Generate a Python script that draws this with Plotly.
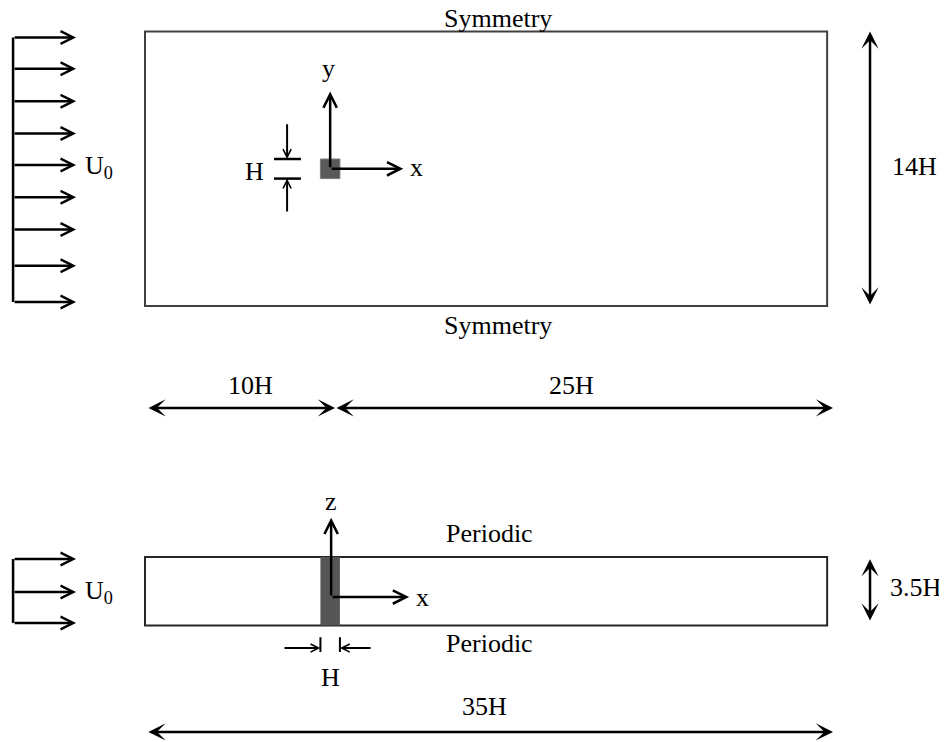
import plotly.graph_objects as go

# domain dimensions in units of H
H = 1.0
UPSTREAM = 10
DOWNSTREAM = 25
LENGTH = UPSTREAM + DOWNSTREAM
HEIGHT = 14
SPAN = 3.5

# inflow arrow heights (in H, from the lower wall)
INLET_XY = [13.7, 12.1, 10.45, 8.8, 7.2, 5.55, 3.9, 2.05, 0.2]
INLET_XZ = [3.39, 1.71, 0.13]

XY_BC = ["Symmetry", "Symmetry"]
XZ_BC = ["Periodic", "Periodic"]
DIM_LABELS = {"up": "10H", "down": "25H", "height": "14H", "span": "3.5H",
              "length": "35H", "h": "H"}

FONT = dict(family="Liberation Serif, Times New Roman, serif", size=26, color="black")
Z0 = -16.3                # bottom of the x-z view
XC = UPSTREAM - 0.5 * H   # cylinder centre
YC = HEIGHT / 2
RAKE_X, TIP_X = -6.77, -3.54

fig = go.Figure()
shapes = []
ann = []


def arrow(x0, y0, x1, y1, head=5, size=0.85, width=2.5, both=False):
    ann.append(dict(x=x1, y=y1, ax=x0, ay=y0, xref="x", yref="y", axref="x", ayref="y",
                    text="", showarrow=True, arrowhead=head, arrowsize=size,
                    arrowwidth=width, arrowcolor="black", standoff=0, startstandoff=0,
                    startarrowhead=head, startarrowsize=size,
                    arrowside="end+start" if both else "end"))


def label(x, y, txt, anchor="center"):
    ann.append(dict(x=x, y=y, xref="x", yref="y", text=txt, showarrow=False,
                    font=FONT, xanchor=anchor, yanchor="middle"))


def line(x0, y0, x1, y1, color="black", width=2.5):
    shapes.append(dict(type="line", x0=x0, y0=y0, x1=x1, y1=y1, xref="x", yref="y",
                       line=dict(color=color, width=width)))


# ---------- x-y view ----------
shapes.append(dict(type="rect", x0=0, x1=LENGTH, y0=0, y1=HEIGHT, xref="x", yref="y",
                   line=dict(color="#404040", width=2)))
shapes.append(dict(type="rect", x0=XC - H / 2, x1=XC + H / 2, y0=YC - H / 2, y1=YC + H / 2,
                   xref="x", yref="y", fillcolor="#595959", line=dict(color="#7a7a7a", width=1)))
line(RAKE_X, min(INLET_XY), RAKE_X, max(INLET_XY))
for yv in INLET_XY:
    arrow(RAKE_X, yv, TIP_X, yv, head=5, size=1.0)
label(-3.2, YC + 0.1, "U<sub>0</sub>", "left")

# coordinate axes
arrow(XC, YC, XC, 10.95, head=5, size=1.05)
arrow(XC, YC, 13.25, YC, head=5, size=1.05)
label(9.4, 12.1, "y")
label(13.95, YC + 0.05, "x")

# H marker
line(6.62, YC + H / 2, 8.0, YC + H / 2)
line(6.62, YC - H / 2, 8.0, YC - H / 2)
arrow(7.29, 9.35, 7.29, YC + H / 2, head=5, size=0.8, width=2)
arrow(7.29, 4.75, 7.29, YC - H / 2, head=5, size=0.8, width=2)
label(5.6, YC - 0.15, DIM_LABELS["h"])

label(18.1, 14.65, XY_BC[0])
label(18.1, -1.0, XY_BC[1])

# 14H
arrow(37.2, 0, 37.2, HEIGHT, head=3, size=1.15, both=True)
label(39.5, YC + 0.1, DIM_LABELS["height"])

# 10H / 25H
DIM_Y = -5.2
arrow(0.1, DIM_Y, UPSTREAM - 0.25, DIM_Y, head=3, size=1.15, both=True)
arrow(UPSTREAM - 0.25, DIM_Y, LENGTH + 0.3, DIM_Y, head=3, size=1.15, both=True)
label(5.4, -4.05, DIM_LABELS["up"])
label(21.9, -4.05, DIM_LABELS["down"])

# ---------- x-z view ----------
shapes.append(dict(type="rect", x0=0, x1=LENGTH, y0=Z0, y1=Z0 + SPAN, xref="x", yref="y",
                   line=dict(color="#262626", width=2)))
shapes.append(dict(type="rect", x0=XC - H / 2, x1=XC + H / 2, y0=Z0, y1=Z0 + SPAN,
                   xref="x", yref="y", fillcolor="#555555", line=dict(width=0)))
line(RAKE_X, Z0 + min(INLET_XZ), RAKE_X, Z0 + max(INLET_XZ))
for zv in INLET_XZ:
    arrow(RAKE_X, Z0 + zv, TIP_X, Z0 + zv, head=5, size=1.0)
label(-3.2, Z0 + INLET_XZ[1] + 0.0, "U<sub>0</sub>", "left")

ZC = Z0 + 1.45
arrow(XC + 0.05, ZC, XC + 0.05, -10.8, head=5, size=1.05)
arrow(XC + 0.05, ZC, 13.55, ZC, head=5, size=1.05)
label(9.55, -9.95, "z")
label(14.25, ZC, "x")

label(17.7, -11.6, XZ_BC[0])
label(17.7, -17.2, XZ_BC[1])

# H marker below the cylinder
line(XC - H / 2, -16.9, XC - H / 2, -17.65, width=2)
line(XC + H / 2, -16.9, XC + H / 2, -17.65, width=2)
arrow(7.08, -17.45, XC - H / 2, -17.45, head=5, size=0.8, width=2)
arrow(11.65, -17.45, XC + H / 2, -17.45, head=5, size=0.8, width=2)
label(XC, -18.95, DIM_LABELS["h"])

# 3.5H
arrow(37.2, Z0 + 0.18, 37.2, Z0 + SPAN - 0.12, head=3, size=1.15, both=True)
label(38.1, -14.35, DIM_LABELS["span"], "left")

# 35H
arrow(0.1, -21.73, LENGTH + 0.3, -21.73, head=3, size=1.15, both=True)
label(17.4, -20.45, DIM_LABELS["length"])

# page body keeps an 8 px margin, so the figure is 8 px smaller each way
fig.update_layout(
    width=939, height=734,
    margin=dict(l=0, r=0, t=0, b=0),
    paper_bgcolor="white", plot_bgcolor="white",
    xaxis=dict(range=[-7.03, 41.15], visible=False, fixedrange=True),
    yaxis=dict(range=[-22.245, 15.204], visible=False, fixedrange=True),
    shapes=shapes, annotations=ann, showlegend=False,
)

fig.write_html("out.html")
